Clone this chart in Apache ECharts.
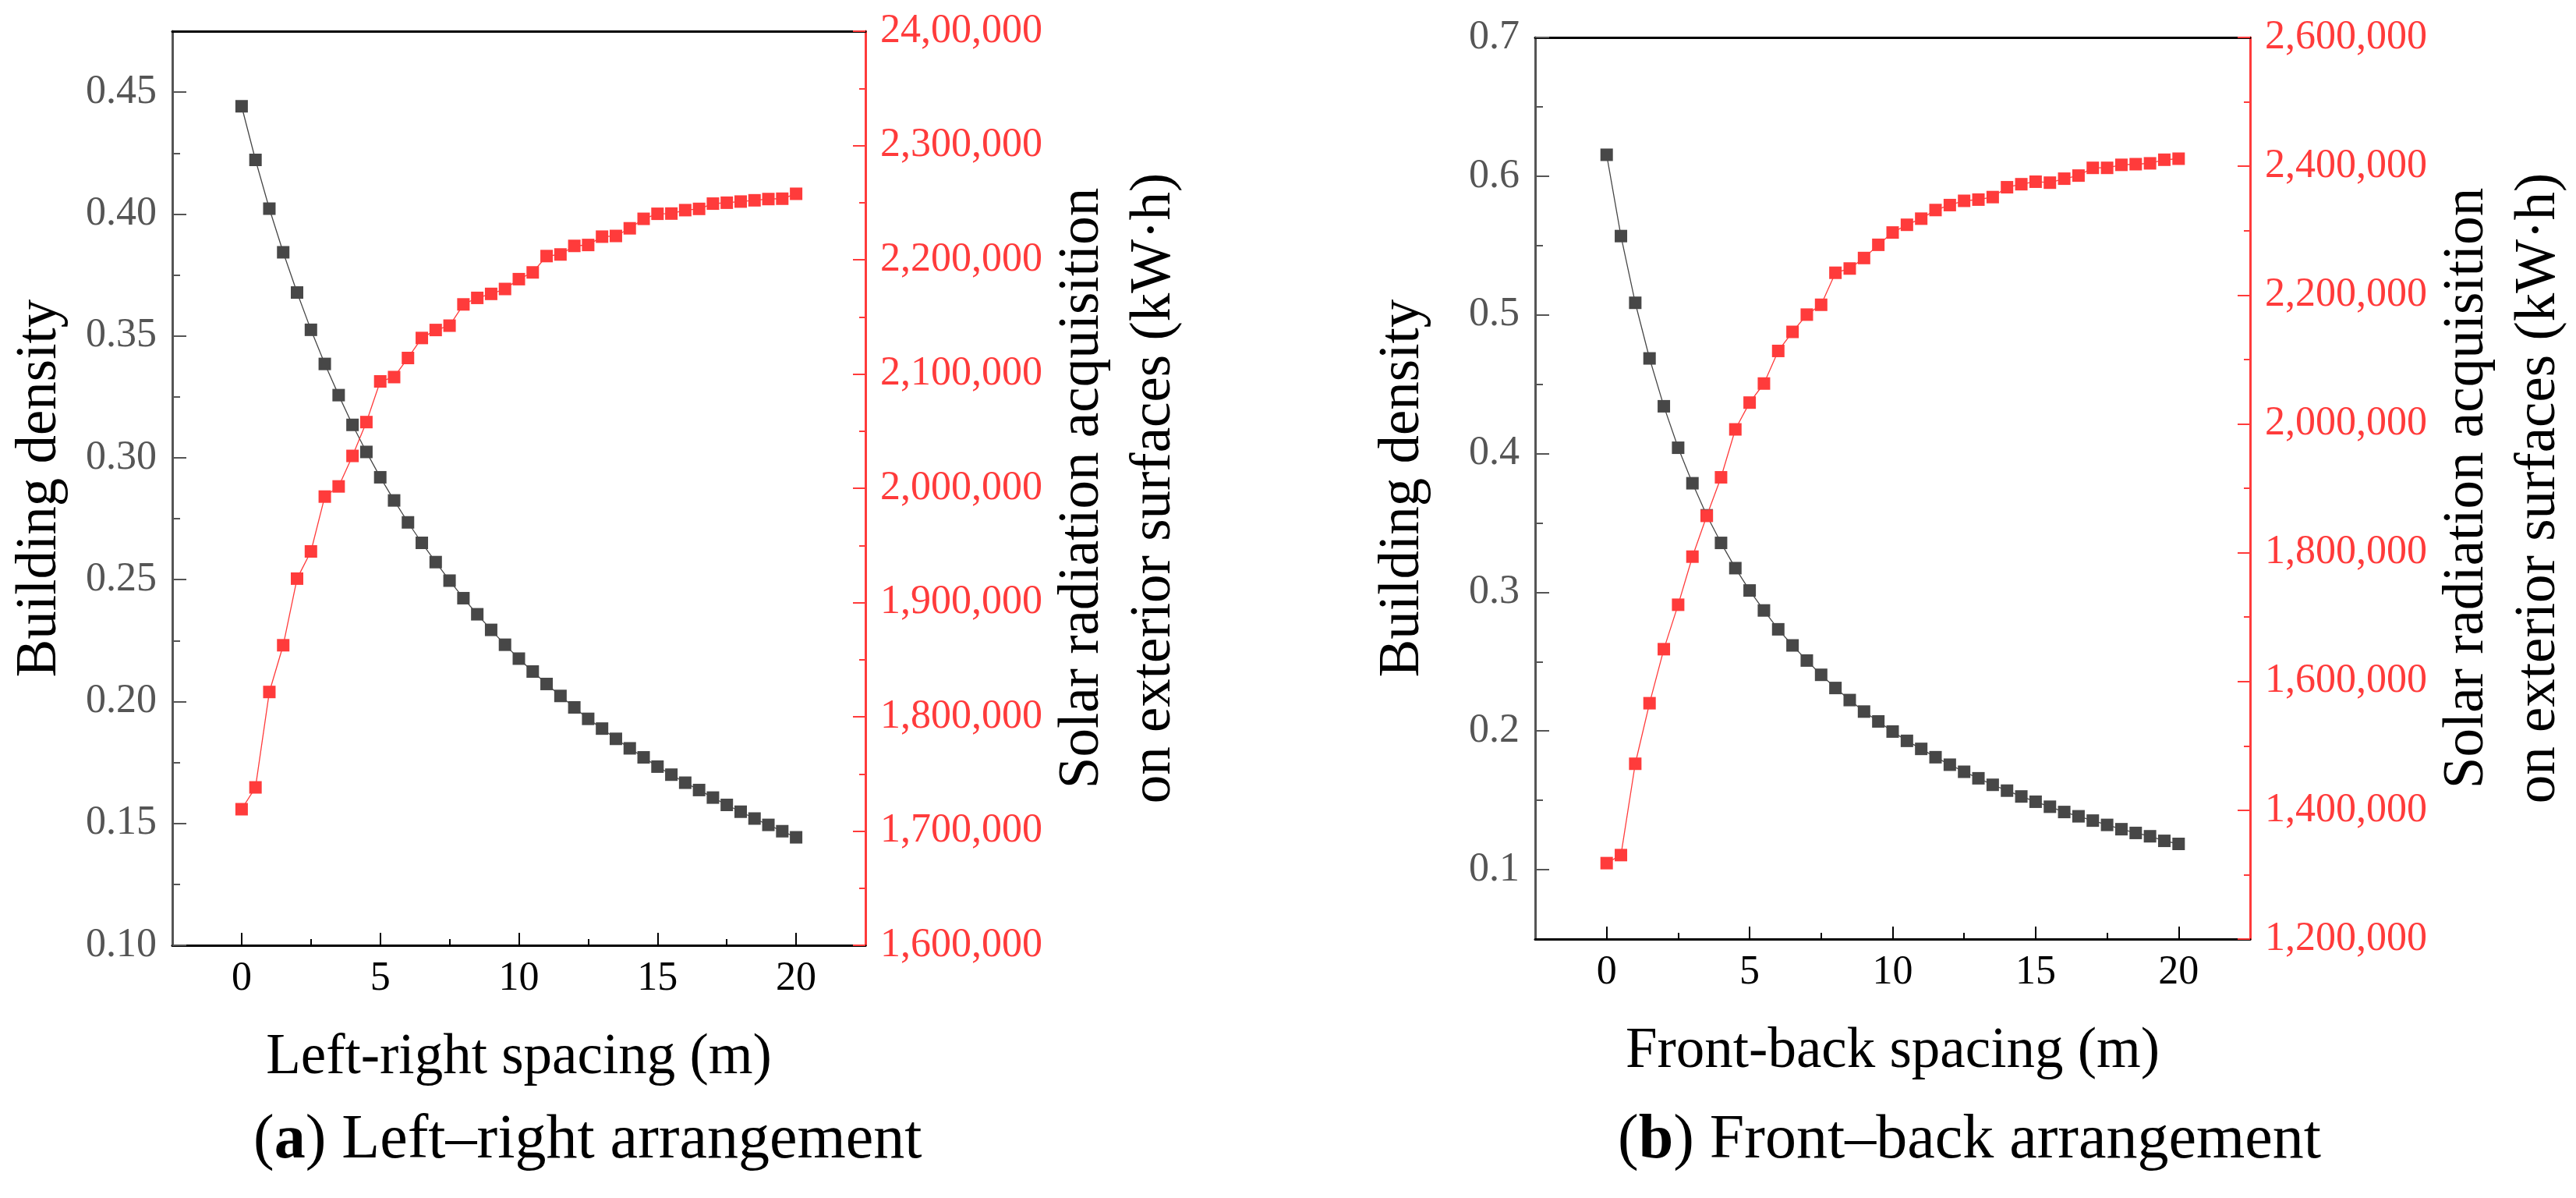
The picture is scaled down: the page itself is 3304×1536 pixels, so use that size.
<!DOCTYPE html>
<html>
<head>
<meta charset="utf-8">
<script src="https://cdn.jsdelivr.net/npm/echarts@6/dist/echarts.min.js"></script>
<style>
html,body{margin:0;padding:0;background:#fff;}
#c{width:3304px;height:1536px;}
</style>
</head>
<body>
<div id="c"></div>
<script>
// ---------------- data ----------------
const spacing = [0,0.5,1,1.5,2,2.5,3,3.5,4,4.5,5,5.5,6,6.5,7,7.5,8,8.5,9,9.5,10,10.5,11,11.5,12,12.5,13,13.5,14,14.5,15,15.5,16,16.5,17,17.5,18,18.5,19,19.5,20];

const densityLR = [0.4442,0.4222,0.4022,0.3843,0.3678,0.3525,0.3385,0.3257,0.3135,0.3024,0.2920,0.2825,0.2735,0.2651,0.2572,0.2496,0.2424,0.2358,0.2294,0.2233,0.2176,0.2123,0.2072,0.2023,0.1976,0.1929,0.1889,0.1847,0.1808,0.1771,0.1733,0.1700,0.1667,0.1637,0.1606,0.1576,0.1548,0.1520,0.1494,0.1468,0.1443];
const solarLR = [1719100,1738200,1821700,1862600,1920900,1944700,1992700,2001600,2028300,2057900,2093500,2097300,2114000,2131500,2138500,2142300,2160900,2166600,2170100,2174400,2183000,2188900,2203200,2204600,2212100,2212900,2220200,2220800,2227500,2235800,2240200,2240400,2243400,2244500,2249100,2249900,2250900,2252000,2253100,2253400,2257700];

const densityFB = [0.6154,0.5568,0.5087,0.4686,0.4341,0.4042,0.3786,0.3555,0.3356,0.3174,0.3013,0.2869,0.2733,0.2617,0.2508,0.2405,0.2310,0.2223,0.2140,0.2069,0.1996,0.1929,0.1871,0.1811,0.1757,0.1706,0.1659,0.1612,0.1570,0.1528,0.1490,0.1454,0.1416,0.1385,0.1354,0.1323,0.1292,0.1265,0.1241,0.1208,0.1186];
const solarFB = [1317900,1330400,1472200,1566200,1650100,1719100,1793800,1857100,1917000,1991400,2033000,2062600,2113200,2142800,2169600,2184900,2234600,2241200,2257500,2278000,2297100,2309100,2318600,2332000,2339700,2346300,2348200,2352100,2367400,2372100,2376000,2374500,2380700,2385500,2397500,2397500,2402200,2403200,2404500,2410100,2411700];

// tick values and labels
const xTicks = [0,5,10,15,20];
const xMinorTicks = [2.5,7.5,12.5,17.5];
const xLabels = ['0','5','10','15','20'];

const densTicksA = [0.10,0.15,0.20,0.25,0.30,0.35,0.40,0.45];
const densMinorA = [0.125,0.175,0.225,0.275,0.325,0.375,0.425];
const densLabelsA = ['0.10','0.15','0.20','0.25','0.30','0.35','0.40','0.45'];
const solarTicksA = [1600000,1700000,1800000,1900000,2000000,2100000,2200000,2300000,2400000];
const solarMinorA = [1650000,1750000,1850000,1950000,2050000,2150000,2250000,2350000];
const solarLabelsA = ['1,600,000','1,700,000','1,800,000','1,900,000','2,000,000','2,100,000','2,200,000','2,300,000','24,00,000'];

const densTicksB = [0.1,0.2,0.3,0.4,0.5,0.6,0.7];
const densMinorB = [0.15,0.25,0.35,0.45,0.55,0.65];
const densLabelsB = ['0.1','0.2','0.3','0.4','0.5','0.6','0.7'];
const solarTicksB = [1200000,1400000,1600000,1800000,2000000,2200000,2400000,2600000];
const solarMinorB = [1300000,1500000,1700000,1900000,2100000,2300000,2500000];
const solarLabelsB = ['1,200,000','1,400,000','1,600,000','1,800,000','2,000,000','2,200,000','2,400,000','2,600,000'];

const captionA = ['(', 'a', ') Left\u2013right arrangement'];
const captionB = ['(', 'b', ') Front\u2013back arrangement'];

// ---------------- styles ----------------
const FONT = 'Liberation Serif';
const RED = '#ff3b3b';
const DARK = '#474747';
const GREY = '#555555';

function labelFn(ticks, labels){
  return function(v){
    for (let i=0;i<ticks.length;i++){ if (Math.abs(ticks[i]-v) < 1e-6*Math.max(1,Math.abs(v))) return labels[i]; }
    return '';
  };
}

function xAxes(g, name){
  return [
    {gridIndex:g, type:'value', min:-2.5, max:22.5, position:'bottom',
     axisLine:{show:true,onZero:false,lineStyle:{color:'#000',width:3}},
     axisTick:{show:true,inside:true,length:16,lineStyle:{color:'#000',width:2},customValues:xTicks},
     axisLabel:{show:true,customValues:xTicks,formatter:labelFn(xTicks,xLabels),fontSize:52,fontFamily:FONT,color:'#000',margin:17},
     splitLine:{show:false},
     name:name, nameLocation:'middle', nameGap:108,
     nameTextStyle:{fontSize:73,fontFamily:FONT,color:'#000'}},
    {gridIndex:g, type:'value', min:-2.5, max:22.5, position:'bottom',
     axisLine:{show:false,onZero:false},
     axisTick:{show:true,inside:true,length:8,lineStyle:{color:'#000',width:2},customValues:xMinorTicks},
     axisLabel:{show:false}, splitLine:{show:false}},
    {gridIndex:g, type:'value', min:-2.5, max:22.5, position:'top',
     axisLine:{show:true,onZero:false,lineStyle:{color:'#000',width:3}},
     axisTick:{show:false}, axisLabel:{show:false}, splitLine:{show:false}}
  ];
}

function yAxes(g, dmin, dmax, dT, dM, dL, smin, smax, sT, sM, sL){
  return [
    {gridIndex:g, type:'value', min:dmin, max:dmax, position:'left',
     axisLine:{show:true,onZero:false,lineStyle:{color:GREY,width:3}},
     axisTick:{show:true,inside:true,length:18,lineStyle:{color:GREY,width:2},customValues:dT},
     axisLabel:{show:true,customValues:dT,formatter:labelFn(dT,dL),fontSize:52,fontFamily:FONT,color:GREY,margin:20},
     splitLine:{show:false},
     name:'Building density', nameLocation:'middle', nameGap:133,
     nameTextStyle:{fontSize:73,fontFamily:FONT,color:'#000'}},
    {gridIndex:g, type:'value', min:smin, max:smax, position:'right',
     axisLine:{show:true,onZero:false,lineStyle:{color:RED,width:3}},
     axisTick:{show:true,inside:true,length:16,lineStyle:{color:RED,width:2},customValues:sT},
     axisLabel:{show:true,customValues:sT,formatter:labelFn(sT,sL),fontSize:52,fontFamily:FONT,color:RED,margin:19},
     splitLine:{show:false},
     name:'Solar radiation acquisition\non exterior surfaces (kW\u00b7h)', nameLocation:'middle', nameGap:233,
     nameTextStyle:{fontSize:73,fontFamily:FONT,color:'#000',lineHeight:92,align:'center'}},
    {gridIndex:g, type:'value', min:dmin, max:dmax, position:'left',
     axisLine:{show:false,onZero:false},
     axisTick:{show:true,inside:true,length:10,lineStyle:{color:GREY,width:2},customValues:dM},
     axisLabel:{show:false}, splitLine:{show:false}},
    {gridIndex:g, type:'value', min:smin, max:smax, position:'right',
     axisLine:{show:false,onZero:false},
     axisTick:{show:true,inside:true,length:8,lineStyle:{color:RED,width:2},customValues:sM},
     axisLabel:{show:false}, splitLine:{show:false}}
  ];
}

function pairs(xs, ys){ return xs.map((x,i)=>[x, ys[i]]); }

function series(xi, yi, data, color, z){
  return {type:'line', xAxisIndex:xi, yAxisIndex:yi, data:data, symbol:'rect', symbolSize:16,
    showSymbol:true, z:z, lineStyle:{color:color,width:1.3}, itemStyle:{color:color},
    emphasis:{disabled:true}, animation:false};
}

function caption(x, parts){
  return {type:'text', x:x, y:1463, silent:true,
    style:{text:'{n|'+parts[0]+'}{b|'+parts[1]+'}{n|'+parts[2]+'}', verticalAlign:'middle', align:'left',
      rich:{n:{fontSize:80,fontFamily:FONT,fill:'#000',color:'#000'},
            b:{fontSize:80,fontFamily:FONT,fontWeight:'bold',fill:'#000',color:'#000'}}}};
}

const chart = echarts.init(document.getElementById('c'), null, {renderer:'canvas'});
const option = {
  backgroundColor:'#fff',
  animation:false,
  textStyle:{fontFamily:FONT},
  grid:[
    {left:221, top:40, width:889, height:1172, containLabel:false, outerBoundsMode:'none'},
    {left:1969, top:48, width:917, height:1156, containLabel:false, outerBoundsMode:'none'}
  ],
  xAxis: xAxes(0,'Left-right spacing (m)').concat(xAxes(1,'Front-back spacing (m)')),
  yAxis: yAxes(0, 0.10, 0.475, densTicksA, densMinorA, densLabelsA, 1600000, 2400000, solarTicksA, solarMinorA, solarLabelsA)
    .concat(yAxes(1, 0.05, 0.70, densTicksB, densMinorB, densLabelsB, 1200000, 2600000, solarTicksB, solarMinorB, solarLabelsB)),
  series:[
    series(0, 0, pairs(spacing, densityLR), DARK, 2),
    series(0, 1, pairs(spacing, solarLR), RED, 3),
    series(3, 4, pairs(spacing, densityFB), DARK, 2),
    series(3, 5, pairs(spacing, solarFB), RED, 3)
  ],
  graphic:[ caption(325, captionA), caption(2075, captionB) ]
};
chart.setOption(option);
</script>
</body>
</html>
